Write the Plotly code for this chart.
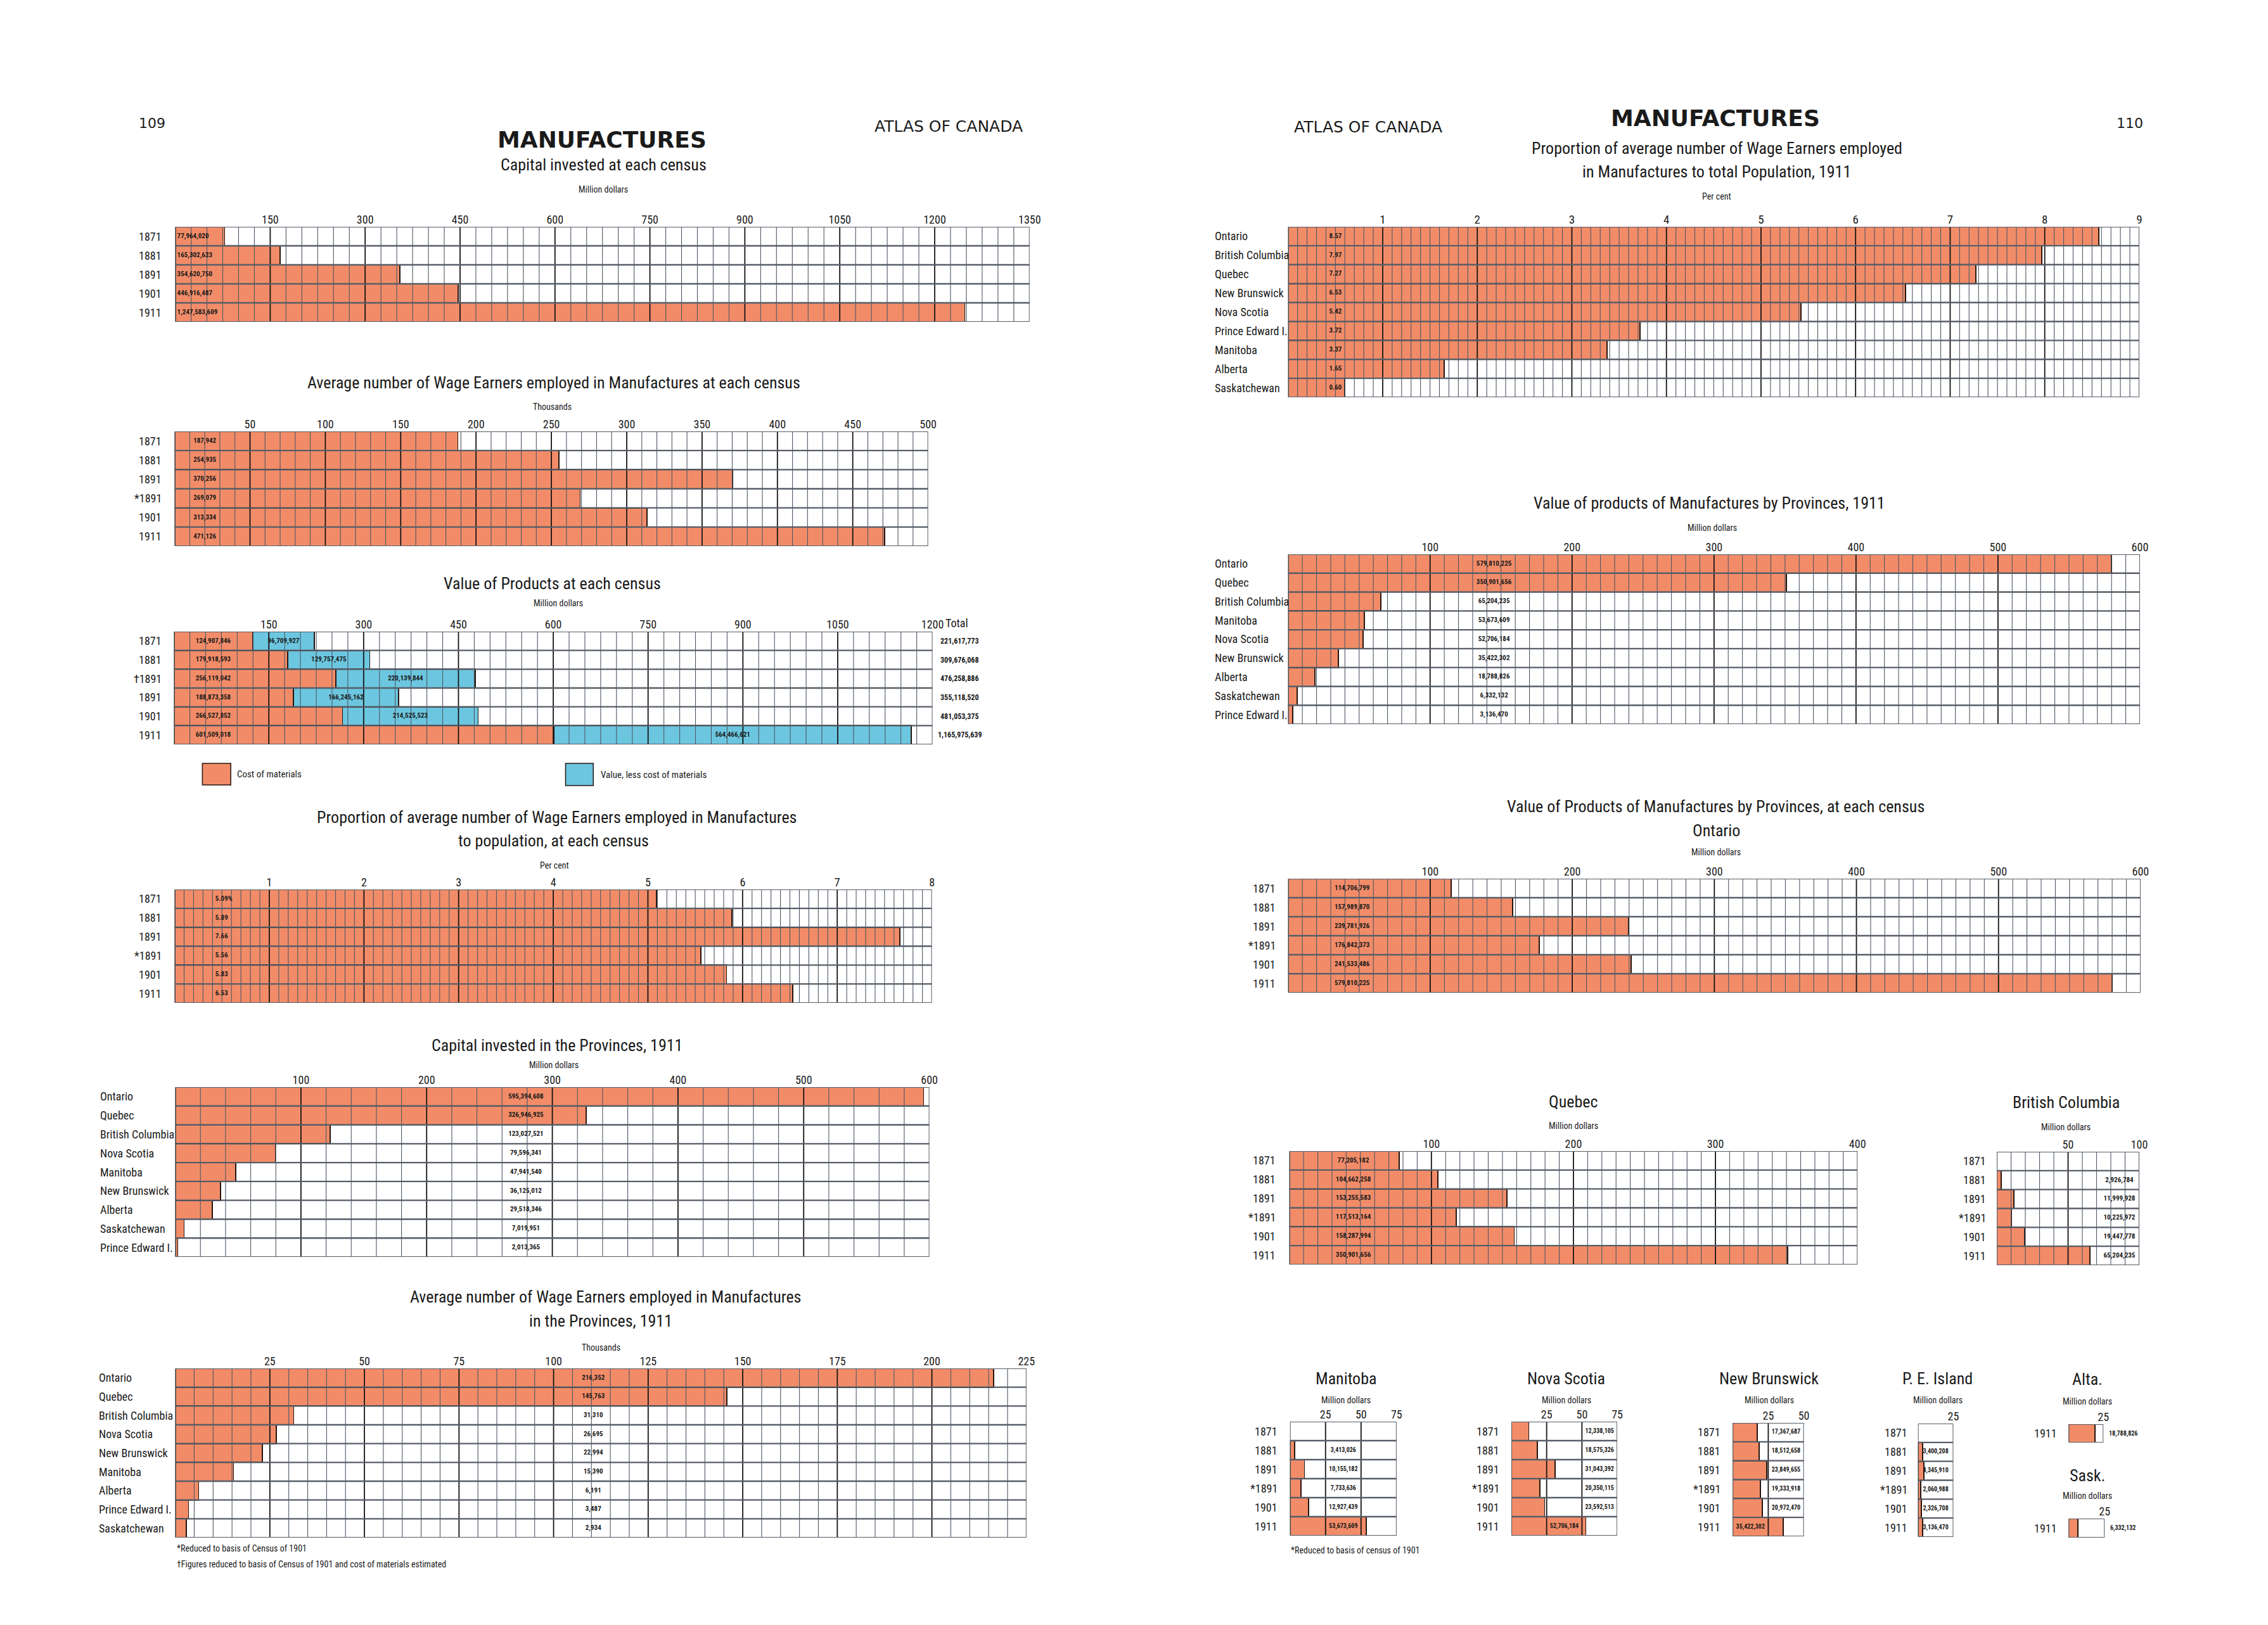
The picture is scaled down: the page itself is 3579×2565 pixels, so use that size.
import plotly.graph_objects as go

W, H = 3579, 2565
ORANGE = "#F28C68"
BLUE = "#6CC6DF"
EDGE = "#24160f"
MINOR_C = "#4d5866"
MAJOR_C = "#141414"
ROW_C = "#565d67"
INK = "#1a1a1a"
NARROW = "Liberation Sans Narrow, Arial Narrow, Roboto Condensed, DejaVu Sans Condensed, sans-serif"
PLAIN = "DejaVu Sans, Liberation Sans, sans-serif"

# ---------------- DATA ----------------
census_5 = ["1871", "1881", "1891", "1901", "1911"]
capital_census = [77964020, 165302623, 354620750, 446916487, 1247583609]

census_wage = ["1871", "1881", "1891", "*1891", "1901", "1911"]
wage_census = [187942, 254935, 370256, 269079, 313334, 471126]

census_value = ["1871", "1881", "\u20201891", "1891", "1901", "1911"]
cost_materials = [124907846, 179918593, 256119042, 188873358, 266527852, 601509018]
value_less_cost = [96709927, 129757475, 220139844, 166245162, 214525523, 564466621]
value_total = [221617773, 309676068, 476258886, 355118520, 481053375, 1165975639]

census_prop = ["1871", "1881", "1891", "*1891", "1901", "1911"]
prop_census = [5.09, 5.89, 7.66, 5.56, 5.83, 6.53]

prov_capital = ["Ontario", "Quebec", "British Columbia", "Nova Scotia", "Manitoba",
                "New Brunswick", "Alberta", "Saskatchewan", "Prince Edward I."]
capital_prov = [595394608, 326946925, 123027521, 79596341, 47941540,
                36125012, 29518346, 7019951, 2013365]

prov_wage = ["Ontario", "Quebec", "British Columbia", "Nova Scotia", "New Brunswick",
             "Manitoba", "Alberta", "Prince Edward I.", "Saskatchewan"]
wage_prov = [216352, 145763, 31310, 26695, 22994, 15390, 6191, 3487, 2934]

prov_prop = ["Ontario", "British Columbia", "Quebec", "New Brunswick", "Nova Scotia",
             "Prince Edward I.", "Manitoba", "Alberta", "Saskatchewan"]
prop_prov = [8.57, 7.97, 7.27, 6.53, 5.42, 3.72, 3.37, 1.65, 0.60]

prov_value = ["Ontario", "Quebec", "British Columbia", "Manitoba", "Nova Scotia",
              "New Brunswick", "Alberta", "Saskatchewan", "Prince Edward I."]
value_prov = [579810225, 350901656, 65204235, 53673609, 52706184,
              35422302, 18788826, 6332132, 3136470]

census_prov = ["1871", "1881", "1891", "*1891", "1901", "1911"]
ontario_value = [114706799, 157989870, 239781926, 176842373, 241533486, 579810225]
quebec_value = [77205182, 104662258, 153255583, 117513164, 158287994, 350901656]
bc_value = [None, 2926784, 11999928, 10225972, 19447778, 65204235]
manitoba_value = [None, 3413026, 10155182, 7733636, 12927439, 53673609]
nova_scotia_value = [12338105, 18575326, 31043392, 20350115, 23592513, 52706184]
new_brunswick_value = [17367687, 18512658, 23849655, 19333918, 20972470, 35422302]
pei_value = [None, 3400208, 4345910, 2060988, 2326708, 3136470]
census_1911 = ["1911"]
alberta_value = [18788826]
sask_value = [6332132]

# ---------------- HELPERS ----------------
traces = []
layout_axes = {}
annotations = []
shapes = []


def px_x(x):
    return x / W


def px_y(y):
    return 1 - y / H


def text(s, x, y, size=14, anchor="center", family=NARROW, bold=False, color=INK):
    if bold:
        s = "<b>" + s + "</b>"
    annotations.append(dict(text=s, x=px_x(x), y=px_y(y), xref="paper", yref="paper",
                            xanchor=anchor, yanchor="middle", showarrow=False,
                            font=dict(size=size, family=family, color=color)))


def fmt_int(v):
    return "" if v is None else f"{v:,}"


def panel(i, box, xmax, major, minor, rows, label_x, label_anchor="right",
          tick_size=18):
    """Create axes + grid for panel i. box=(left, top, right, bottom) in px."""
    l, t, r, b = box
    n = len(rows)
    xname = "xaxis" if i == 1 else f"xaxis{i}"
    yname = "yaxis" if i == 1 else f"yaxis{i}"
    xr = "x" if i == 1 else f"x{i}"
    yr = "y" if i == 1 else f"y{i}"
    nmaj = int(round(xmax / major))
    tickvals = [k * major for k in range(1, nmaj + 1)]
    ticktext = [(f"{v:g}") for v in tickvals]
    layout_axes[xname] = dict(domain=[px_x(l), px_x(r)], range=[0, xmax], anchor=yr,
                              side="top", showgrid=False, zeroline=False, showline=False,
                              ticks="", tickvals=tickvals, ticktext=ticktext,
                              tickfont=dict(size=tick_size, family=NARROW, color=INK),
                              fixedrange=True)
    layout_axes[yname] = dict(domain=[px_y(b), px_y(t)], range=[n - 0.5, -0.5], anchor=xr,
                              showgrid=False, zeroline=False, showline=False,
                              showticklabels=False, fixedrange=True)
    # grid lines (drawn above bars)
    gx, gy = [], []
    if minor:
        ratio = int(round(major / minor))
        nmin = int(round(xmax / minor))
        for k in range(1, nmin):
            if k % ratio == 0:
                continue
            gx += [k * minor, k * minor, None]
            gy += [-0.5, n - 0.5, None]
    if gx:
        traces.append(go.Scatter(x=gx, y=gy, mode="lines", xaxis=xr, yaxis=yr,
                                 line=dict(color=MINOR_C, width=1.1), hoverinfo="skip"))
    mx, my = [], []
    for k in range(1, nmaj):
        mx += [k * major, k * major, None]
        my += [-0.5, n - 0.5, None]
    if mx:
        traces.append(go.Scatter(x=mx, y=my, mode="lines", xaxis=xr, yaxis=yr,
                                 line=dict(color=MAJOR_C, width=1.8), hoverinfo="skip"))
    rx, ry = [], []
    for j in range(1, n):
        rx += [0, xmax, None]
        ry += [j - 0.5, j - 0.5, None]
    if rx:
        traces.append(go.Scatter(x=rx, y=ry, mode="lines", xaxis=xr, yaxis=yr,
                                 line=dict(color=ROW_C, width=2.4), hoverinfo="skip"))
    traces.append(go.Scatter(x=[0, xmax, xmax, 0, 0], y=[-0.5, -0.5, n - 0.5, n - 0.5, -0.5],
                             mode="lines", xaxis=xr, yaxis=yr,
                             line=dict(color=ROW_C, width=2.0), hoverinfo="skip"))
    # row labels
    for j, lab in enumerate(rows):
        annotations.append(dict(text=lab, x=px_x(label_x), y=j, xref="paper", yref=yr,
                                xanchor=label_anchor, yanchor="middle", showarrow=False,
                                font=dict(size=18, family=NARROW, color=INK)))
    return xr, yr


def bars(xr, yr, values, color=ORANGE, scale=1.0):
    xs = [None if v is None else v / scale for v in values]
    traces.insert(0, go.Bar(x=xs, y=list(range(len(values))), orientation="h", width=1.0,
                            xaxis=xr, yaxis=yr, marker=dict(color=color,
                                                            line=dict(color=EDGE, width=1.8)),
                            hoverinfo="skip"))


def value_labels(xr, yr, xs, labels, pos="middle center", size=11):
    traces.append(go.Scatter(x=xs, y=list(range(len(labels))), mode="text",
                             text=["<b>" + s + "</b>" if s else "" for s in labels],
                             textposition=pos, xaxis=xr, yaxis=yr, cliponaxis=False,
                             textfont=dict(size=size, family=NARROW, color=INK),
                             hoverinfo="skip"))


def side_labels(yr, px_left, labels, size=11, anchor="left"):
    """Labels beside a panel (outside its x range), tied to the panel's rows."""
    for j, lab in enumerate(labels):
        annotations.append(dict(text="<b>" + lab + "</b>", x=px_x(px_left), y=j,
                                xref="paper", yref=yr,
                                xanchor=anchor, yanchor="middle", showarrow=False,
                                font=dict(size=size, family=NARROW, color=INK)))


M = 1e6

# ---------------- LEFT PAGE ----------------
text("109", 241, 195, size=22, family=PLAIN)
text("ATLAS OF CANADA", 1505, 199, size=25, family=PLAIN)
text("MANUFACTURES", 955, 220, size=36, family=PLAIN, bold=True)

# 1 capital invested at each census
text("Capital invested at each census", 957, 260, size=26)
text("Million dollars", 957, 299, size=14)
xr, yr = panel(1, (278, 358, 1633, 508), 1350, 150, 25, census_5, 258)
bars(xr, yr, capital_census, scale=M)
value_labels(xr, yr, [3] * 5, [fmt_int(v) for v in capital_census], pos="middle right")

# 2 wage earners at each census
text("Average number of Wage Earners employed in Manufactures at each census", 878, 604, size=26)
text("Thousands", 876, 642, size=14)
xr, yr = panel(2, (277, 681, 1472, 862), 500, 50, 10, census_wage, 258)
bars(xr, yr, wage_census, scale=1000)
value_labels(xr, yr, [20] * 6, [fmt_int(v) for v in wage_census])

# 3 value of products at each census (stacked)
text("Value of Products at each census", 876, 921, size=26)
text("Million dollars", 885, 952, size=14)
text("Total", 1518, 983, size=18)
xr, yr = panel(3, (276, 997, 1479, 1175), 1200, 150, 25, census_value, 258)
traces.insert(0, go.Bar(x=[v / M for v in value_less_cost], y=list(range(6)), orientation="h",
                        width=1.0, xaxis=xr, yaxis=yr, hoverinfo="skip",
                        marker=dict(color=BLUE, line=dict(color=EDGE, width=1.8))))
traces.insert(0, go.Bar(x=[v / M for v in cost_materials], y=list(range(6)), orientation="h",
                        width=1.0, xaxis=xr, yaxis=yr, hoverinfo="skip",
                        marker=dict(color=ORANGE, line=dict(color=EDGE, width=1.8))))
value_labels(xr, yr, [62] * 6, [fmt_int(v) for v in cost_materials])
value_labels(xr, yr, [(c + d / 2) / M for c, d in zip(cost_materials, value_less_cost)],
             [fmt_int(v) for v in value_less_cost])
side_labels(yr, 1522, [fmt_int(v) for v in value_total], size=12, anchor="center")
# legend swatches
shapes.append(dict(type="rect", xref="paper", yref="paper", x0=px_x(321), x1=px_x(366),
                   y0=px_y(1239), y1=px_y(1205), fillcolor=ORANGE, line=dict(color=EDGE, width=1.5)))
text("Cost of materials", 374, 1222, size=15, anchor="left")
shapes.append(dict(type="rect", xref="paper", yref="paper", x0=px_x(897), x1=px_x(941),
                   y0=px_y(1240), y1=px_y(1205), fillcolor=BLUE, line=dict(color=EDGE, width=1.5)))
text("Value, less cost of materials", 951, 1223, size=15, anchor="left")

# 4 proportion at each census
text("Proportion of average number of Wage Earners employed in Manufactures", 883, 1290, size=26)
text("to population, at each census", 878, 1327, size=26)
text("Per cent", 879, 1366, size=14)
xr, yr = panel(4, (277, 1404, 1478, 1583), 8, 1, 0.1, census_prop, 258)
bars(xr, yr, prop_census)
value_labels(xr, yr, [0.43] * 6,
             [f"{v:.2f}" + ("%" if j == 0 else "") for j, v in enumerate(prop_census)],
             pos="middle right")

# 5 capital in provinces
text("Capital invested in the Provinces, 1911", 883, 1650, size=26)
text("Million dollars", 878, 1681, size=14)
xr, yr = panel(5, (278, 1716, 1474, 1984), 600, 100, 20, prov_capital, 157, "left")
bars(xr, yr, capital_prov, scale=M)
value_labels(xr, yr, [279] * 9, [fmt_int(v) for v in capital_prov])

# 6 wage earners in provinces
text("Average number of Wage Earners employed in Manufactures", 960, 2047, size=26)
text("in the Provinces, 1911", 953, 2085, size=26)
text("Thousands", 953, 2127, size=14)
xr, yr = panel(6, (278, 2160, 1628, 2427), 225, 25, 5, prov_wage, 155, "left")
bars(xr, yr, wage_prov, scale=1000)
value_labels(xr, yr, [110.5] * 9, [fmt_int(v) for v in wage_prov])
text("*Reduced to basis of Census of 1901", 278, 2444, size=14, anchor="left")
text("\u2020Figures reduced to basis of Census of 1901 and cost of materials estimated",
     278, 2469, size=14, anchor="left")

# ---------------- RIGHT PAGE ----------------
text("ATLAS OF CANADA", 2170, 200, size=25, family=PLAIN)
text("MANUFACTURES", 2721, 186, size=36, family=PLAIN, bold=True)
text("110", 3378, 195, size=22, family=PLAIN)

# 7 proportion by province
text("Proportion of average number of Wage Earners employed", 2723, 234, size=26)
text("in Manufactures to total Population, 1911", 2723, 271, size=26)
text("Per cent", 2723, 310, size=14)
xr, yr = panel(7, (2043, 358, 3393, 627), 9, 1, 0.1, prov_prop, 1925, "left", tick_size=19)
bars(xr, yr, prop_prov)
value_labels(xr, yr, [0.5] * 9, [f"{v:.2f}" for v in prop_prov])

# 8 value of products by province 1911
text("Value of products of Manufactures by Provinces, 1911", 2711, 794, size=26)
text("Million dollars", 2716, 833, size=14)
xr, yr = panel(8, (2043, 875, 3394, 1143), 600, 100, 10, prov_value, 1925, "left")
bars(xr, yr, value_prov, scale=M)
value_labels(xr, yr, [145] * 9, [fmt_int(v) for v in value_prov])

# 9 Ontario
text("Value of Products of Manufactures by Provinces, at each census", 2721, 1273, size=26)
text("Ontario", 2722, 1311, size=26)
text("Million dollars", 2722, 1345, size=14)
xr, yr = panel(9, (2043, 1387, 3395, 1567), 600, 100, 10, census_prov, 2025)
bars(xr, yr, ontario_value, scale=M)
value_labels(xr, yr, [45] * 6, [fmt_int(v) for v in ontario_value])

# 10 Quebec
text("Quebec", 2495, 1739, size=26)
text("Million dollars", 2496, 1777, size=14)
xr, yr = panel(10, (2045, 1817, 2946, 1996), 400, 100, 10, census_prov, 2025)
bars(xr, yr, quebec_value, scale=M)
value_labels(xr, yr, [45] * 6, [fmt_int(v) for v in quebec_value])

# 11 British Columbia
text("British Columbia", 3277, 1740, size=26)
text("Million dollars", 3276, 1779, size=14)
xr, yr = panel(11, (3167, 1818, 3393, 1997), 100, 50, 10, census_prov, 3152)
bars(xr, yr, bc_value, scale=M)
value_labels(xr, yr, [86] * 6, [fmt_int(v) for v in bc_value])

# small provincial panels
small = [
    (12, "Manitoba", 2135, (2046, 2244, 2215, 2424), 75, 2028, manitoba_value, 37.5, 1e9),
    (13, "Nova Scotia", 2484, (2397, 2244, 2565, 2424), 75, 2380, nova_scotia_value, 62.5, 50),
    (14, "New Brunswick", 2806, (2748, 2246, 2861, 2425), 50, 2731, new_brunswick_value, 37.5, 25),
    (15, "P. E. Island", 3073, (3042, 2247, 3098, 2426), 25, 3027, pei_value, 12.5, 1e9),
]
for i, name, cx, box, xmax, lx, vals, lab_pos, overlap in small:
    text(name, cx, 2176, size=26)
    text("Million dollars", cx, 2210, size=14)
    xr, yr = panel(i, box, xmax, 25, None, census_prov, lx)
    bars(xr, yr, vals, scale=M)
    xs = [lab_pos if (v is None or v / M < overlap) else lab_pos - 25 for v in vals]
    value_labels(xr, yr, xs, [fmt_int(v) for v in vals], size=10)
text("*Reduced to basis of census of 1901", 2045, 2447, size=14, anchor="left")

text("Alta.", 3311, 2177, size=26)
text("Million dollars", 3311, 2212, size=14)
xr, yr = panel(16, (3281, 2248, 3336, 2277), 25, 25, None, census_1911, 3264)
bars(xr, yr, alberta_value, scale=M)
side_labels(yr, 3343, [fmt_int(v) for v in alberta_value], size=10)

text("Sask.", 3311, 2329, size=26)
text("Million dollars", 3311, 2361, size=14)
xr, yr = panel(17, (3281, 2397, 3338, 2427), 25, 25, None, census_1911, 3264)
bars(xr, yr, sask_value, scale=M)
side_labels(yr, 3345, [fmt_int(v) for v in sask_value], size=10)

fig = go.Figure(data=traces)
fig.update_layout(width=W, height=H, margin=dict(l=0, r=0, t=0, b=0),
                  paper_bgcolor="white", plot_bgcolor="white", showlegend=False,
                  barmode="stack", annotations=annotations, shapes=shapes,
                  font=dict(family=NARROW, color=INK), **layout_axes)
fig.write_html("out.html", config={"displayModeBar": False},
               post_script="document.body.style.margin='0';document.body.style.overflow='hidden';")
